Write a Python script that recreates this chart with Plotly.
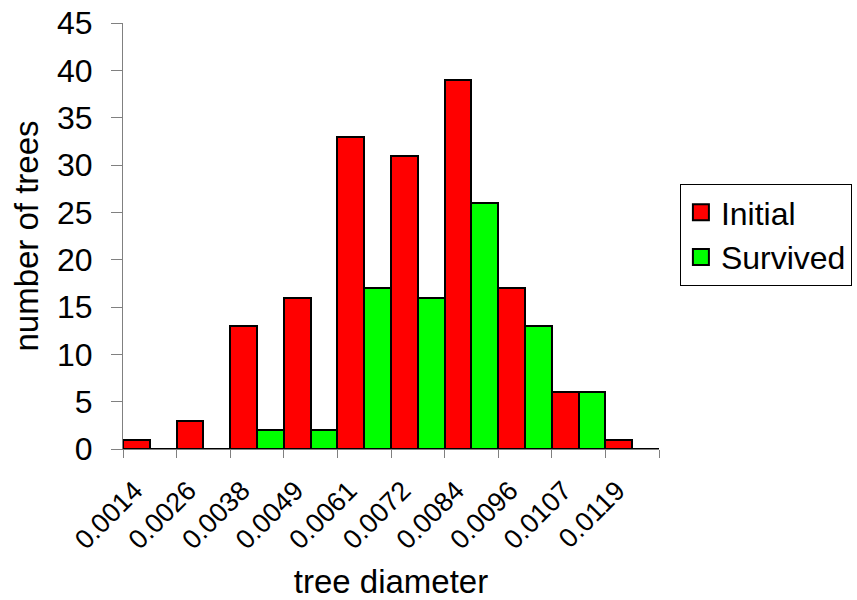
import plotly.graph_objects as go

categories = ["0.0014", "0.0026", "0.0038", "0.0049", "0.0061",
              "0.0072", "0.0084", "0.0096", "0.0107", "0.0119"]
initial = [1, 3, 13, 16, 33, 31, 39, 17, 6, 1]
survived = [0, 0, 2, 2, 17, 16, 26, 13, 6, 0]
series_names = ["Initial", "Survived"]
series_colors = ["#FF0000", "#00FF00"]

FONT = "Liberation Sans, Arial, sans-serif"

fig = go.Figure()
for name, vals, col in zip(series_names, [initial, survived], series_colors):
    fig.add_trace(go.Bar(x=categories, y=vals, name=name, showlegend=False,
                         marker=dict(color=col, line=dict(color="black", width=2))))
# legend-only entries with larger square swatches
for name, col in zip(series_names, series_colors):
    fig.add_trace(go.Scatter(x=[None], y=[None], name=name, mode="markers",
                             marker=dict(symbol="square", size=20, color=col,
                                         line=dict(color="black", width=2))))

fig.update_layout(
    width=857, height=600,
    margin=dict(l=123, r=198, t=23, b=151, autoexpand=False),
    barmode="group", bargap=0, bargroupgap=0,
    plot_bgcolor="white", paper_bgcolor="white",
    font=dict(family=FONT, size=33, color="black"),
    showlegend=True,
    legend=dict(x=1.039, y=0.622, xanchor="left", yanchor="top",
                bordercolor="black", borderwidth=1, bgcolor="white",
                font=dict(size=32), tracegroupgap=0, itemsizing="trace",
                itemwidth=30),
    xaxis=dict(
        type="category", tickangle=-45, tickson="boundaries",
        ticks="outside", ticklen=8, tickcolor="#808080", tickwidth=1,
        showline=True, linecolor="#808080", linewidth=1, automargin=False,
        showgrid=False, tickfont=dict(size=27), ticklabelstandoff=14,
        ticklabelshift=-15,
        title=dict(text="tree diameter", font=dict(size=33), standoff=18),
    ),
    yaxis=dict(
        range=[0, 45], dtick=5, tick0=0, automargin=False,
        ticks="outside", ticklen=11, tickcolor="#808080", tickwidth=1,
        showline=True, linecolor="#808080", linewidth=1,
        showgrid=False, zeroline=False, tickfont=dict(size=32),
        ticklabelstandoff=12,
        title=dict(text="number of trees", font=dict(size=33), standoff=8),
    ),
)

fig.write_html("out.html")
